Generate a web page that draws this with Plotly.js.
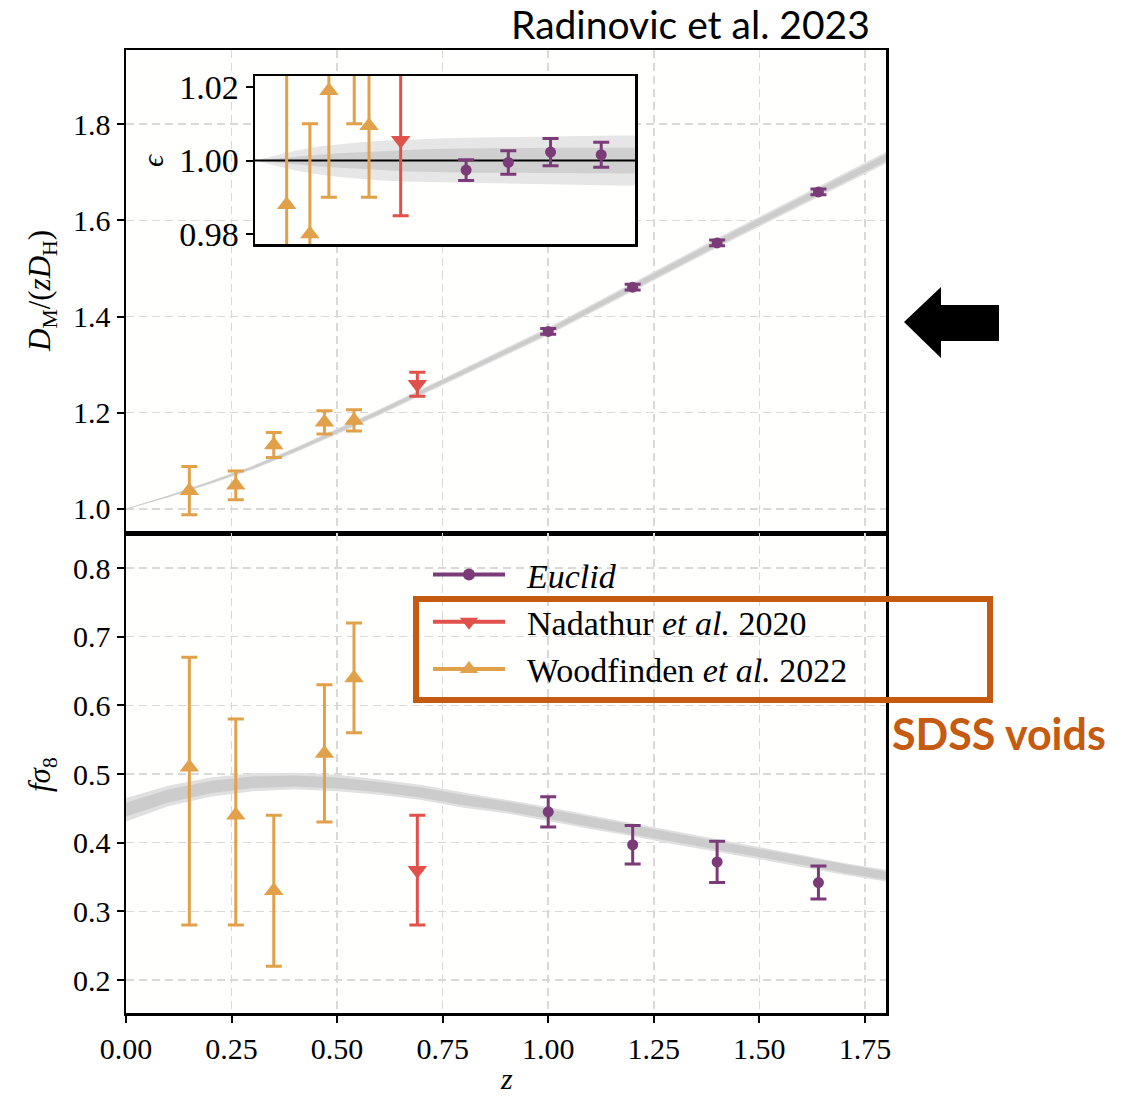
<!DOCTYPE html>
<html><head><meta charset="utf-8">
<script src="https://cdn.plot.ly/plotly-3.0.1.min.js"></script>
<style>html,body{margin:0;padding:0;background:#fff}#chart{width:1125px;height:1098px}</style>
</head><body><div id="chart"></div>
<script>
// ---------------- data ----------------
const zModel = [0.0,0.1,0.2,0.3,0.4,0.5,0.6,0.7,0.8,0.9,1.0,1.1,1.2,1.3,1.4,1.5,1.6,1.7,1.8];
// D_M/(z D_H) model curve and band half-widths
const dmModel = [1.000,1.026,1.055,1.086,1.122,1.161,1.201,1.243,1.285,1.327,1.369,1.415,1.461,1.507,1.553,1.597,1.641,1.686,1.730];
const dmBandOuter = [0.001,0.002,0.003,0.004,0.005,0.0055,0.006,0.0065,0.007,0.0075,0.008,0.0085,0.009,0.0095,0.010,0.0105,0.011,0.0115,0.012];
const dmBandInner = [0.0005,0.0012,0.0018,0.0024,0.003,0.0033,0.0036,0.004,0.0043,0.0046,0.005,0.0053,0.0056,0.0059,0.0062,0.0065,0.0068,0.0071,0.0074];
// f sigma_8 model curve and band half-widths
const fsModel = [0.448,0.468,0.481,0.488,0.490,0.487,0.481,0.473,0.462,0.453,0.442,0.430,0.419,0.407,0.396,0.385,0.374,0.362,0.352];
const fsBandOuter = [0.017,0.015,0.014,0.013,0.012,0.012,0.011,0.011,0.011,0.010,0.010,0.010,0.0095,0.0095,0.009,0.009,0.009,0.0085,0.0085];
const fsBandInner = [0.010,0.0095,0.009,0.0085,0.008,0.008,0.0075,0.0075,0.0075,0.007,0.007,0.007,0.0065,0.0065,0.006,0.006,0.006,0.006,0.006];
// epsilon (inset) reference and band half-widths
const epsModel = [1,1,1,1,1,1,1,1,1,1,1,1,1,1,1,1,1,1,1];
const epsBandOuter = [0,0.0015,0.0028,0.0038,0.0045,0.005,0.0054,0.0057,0.006,0.0061,0.0062,0.0063,0.0064,0.0065,0.0066,0.0067,0.0067,0.0068,0.0068];
const epsBandInner = [0,0.0006,0.0011,0.0016,0.002,0.0023,0.0026,0.0029,0.0031,0.0032,0.0033,0.0034,0.0034,0.0035,0.0035,0.0035,0.0035,0.0035,0.0035];

// Woodfinden et al. 2022
const zWood = [0.15, 0.26, 0.35, 0.47, 0.54];
const dmWood = [1.038, 1.049, 1.133, 1.180, 1.184];
const dmWoodErr = [0.050, 0.030, 0.026, 0.024, 0.022];
const fsWood = [0.51, 0.44, 0.33, 0.53, 0.64];
const fsWoodUp = [0.16, 0.14, 0.11, 0.10, 0.08];
const fsWoodDown = [0.23, 0.16, 0.11, 0.10, 0.08];
const epsWood = [0.988, 0.980, 1.019, 1.030, 1.0095];
const epsWoodErr = [0.040, 0.030, 0.029, 0.020, 0.0195];
// Nadathur et al. 2020
const zNad = [0.69];
const dmNad = [1.259];
const dmNadErr = [0.025];
const fsNad = [0.36];
const fsNadErr = [0.08];
const epsNad = [1.0055];
const epsNadErr = [0.0205];
// Euclid forecast
const zEuc = [1.0, 1.2, 1.4, 1.64];
const dmEuc = [1.369, 1.461, 1.553, 1.659];
const dmEucErr = [0.006, 0.006, 0.006, 0.006];
const fsEuc = [0.445, 0.397, 0.372, 0.342];
const fsEucErr = [0.022, 0.028, 0.030, 0.024];
const epsEuc = [0.9974, 0.9995, 1.0023, 1.0016];
const epsEucErr = [0.0028, 0.0032, 0.0037, 0.0034];

const legendNames = ['<i>Euclid</i>', 'Nadathur <i>et al.</i> 2020', 'Woodfinden <i>et al.</i> 2022'];
const xTicks = [0, 0.25, 0.5, 0.75, 1.0, 1.25, 1.5, 1.75];

// ---------------- styling ----------------
const PURPLE = '#7b3b78', RED = '#e0514b', ORANGE = '#e1a04a', BOX = '#c55a11';
const SERIF = 'Liberation Serif, Times New Roman, serif';
const W = 1125, H = 1098, L = 126, R = 239, T = 50, B = 85;
const px = x => (x - L) / (W - L - R);
const py = y => (H - B - y) / (H - T - B);
const GAP = '\u2002';

function band(z, c, hw, xa, ya, color) {
  const up = c.map((v, i) => v + hw[i]);
  const lo = c.map((v, i) => v - hw[i]);
  return {x: z.concat(z.slice().reverse()), y: up.concat(lo.slice().reverse()),
    xaxis: xa, yaxis: ya, mode: 'lines', fill: 'toself', fillcolor: color,
    line: {width: 0}, hoverinfo: 'skip', showlegend: false};
}
function pts(x, y, up, down, xa, ya, color, symbol, size, capw) {
  return {x: x, y: y, xaxis: xa, yaxis: ya, mode: 'markers', showlegend: false,
    marker: {color: color, symbol: symbol, size: size},
    error_y: {type: 'data', symmetric: false, array: up, arrayminus: down,
      color: color, thickness: 3, width: capw}};
}

const traces = [
  // top panel
  band(zModel, dmModel, dmBandOuter, 'x', 'y', '#e0e0e0'),
  band(zModel, dmModel, dmBandInner, 'x', 'y', '#cccccc'),
  pts(zWood, dmWood, dmWoodErr, dmWoodErr, 'x', 'y', ORANGE, 'triangle-up', 17, 8),
  pts(zNad, dmNad, dmNadErr, dmNadErr, 'x', 'y', RED, 'triangle-down', 17, 8),
  pts(zEuc, dmEuc, dmEucErr, dmEucErr, 'x', 'y', PURPLE, 'circle', 11, 8),
  // bottom panel
  band(zModel, fsModel, fsBandOuter, 'x2', 'y2', '#e0e0e0'),
  band(zModel, fsModel, fsBandInner, 'x2', 'y2', '#cccccc'),
  pts(zWood, fsWood, fsWoodUp, fsWoodDown, 'x2', 'y2', ORANGE, 'triangle-up', 17, 8),
  pts(zNad, fsNad, fsNadErr, fsNadErr, 'x2', 'y2', RED, 'triangle-down', 17, 8),
  pts(zEuc, fsEuc, fsEucErr, fsEucErr, 'x2', 'y2', PURPLE, 'circle', 11, 8),
  // inset
  band(zModel, epsModel, epsBandOuter, 'x3', 'y3', '#e6e6e6'),
  band(zModel, epsModel, epsBandInner, 'x3', 'y3', '#d0d0d0'),
  {x: zModel, y: epsModel, xaxis: 'x3', yaxis: 'y3', mode: 'lines', line: {color: '#000', width: 2}, showlegend: false, hoverinfo: 'skip'},
  pts(zWood, epsWood, epsWoodErr, epsWoodErr, 'x3', 'y3', ORANGE, 'triangle-up', 17, 8),
  pts(zNad, epsNad, epsNadErr, epsNadErr, 'x3', 'y3', RED, 'triangle-down', 17, 8),
  pts(zEuc, epsEuc, epsEucErr, epsEucErr, 'x3', 'y3', PURPLE, 'circle', 11, 8),
  // legend entries
  {x: [null], y: [null], xaxis: 'x2', yaxis: 'y2', mode: 'lines+markers', name: GAP + legendNames[0],
   line: {color: PURPLE, width: 4}, marker: {color: PURPLE, symbol: 'circle', size: 12}},
  {x: [null], y: [null], xaxis: 'x2', yaxis: 'y2', mode: 'lines+markers', name: GAP + legendNames[1],
   line: {color: RED, width: 4}, marker: {color: RED, symbol: 'triangle-down', size: 16}},
  {x: [null], y: [null], xaxis: 'x2', yaxis: 'y2', mode: 'lines+markers', name: GAP + legendNames[2],
   line: {color: ORANGE, width: 4}, marker: {color: ORANGE, symbol: 'triangle-up', size: 16}}
];

const gridCommon = {showgrid: true, gridcolor: '#d9d9d9', gridwidth: 1.5, griddash: '8px,5px',
  showline: true, linecolor: '#000', linewidth: 2.5, mirror: true, zeroline: false,
  tickcolor: '#000', ticklen: 7, tickwidth: 2, tickfont: {family: SERIF, size: 30, color: '#000'}};
const splitY = py(533);

const layout = {
  width: W, height: H, autosize: false,
  margin: {l: L, r: R, t: T, b: B, pad: 0},
  paper_bgcolor: '#ffffff', plot_bgcolor: '#fffffe',
  font: {family: SERIF, color: '#000'},
  xaxis: Object.assign({}, gridCommon, {domain: [0, 1], anchor: 'y', range: [0, 1.8],
    tickvals: xTicks, showticklabels: false, ticks: ''}),
  yaxis: Object.assign({}, gridCommon, {domain: [splitY, 1], anchor: 'x', range: [0.95, 1.954],
    tick0: 1.0, dtick: 0.2, tickformat: '.1f', ticks: 'outside'}),
  xaxis2: Object.assign({}, gridCommon, {domain: [0, 1], anchor: 'y2', range: [0, 1.8],
    tickvals: xTicks, tickformat: '.2f', ticks: 'outside'}),
  yaxis2: Object.assign({}, gridCommon, {domain: [0, splitY], anchor: 'x2', range: [0.152, 0.851],
    tick0: 0.2, dtick: 0.1, tickformat: '.1f', ticks: 'outside'}),
  xaxis3: {domain: [px(255), px(635)], anchor: 'y3', range: [0, 1.8], showgrid: false,
    showticklabels: false, ticks: '', showline: true, linecolor: '#000', linewidth: 2.5, mirror: true, zeroline: false},
  yaxis3: {domain: [py(244), py(76)], anchor: 'x3', range: [0.9773, 1.023], showgrid: false,
    tickvals: [0.98, 1.0, 1.02], tickformat: '.2f', ticks: 'outside', ticklen: 7, tickwidth: 2, tickcolor: '#000',
    tickfont: {family: SERIF, size: 34, color: '#000'},
    showline: true, linecolor: '#000', linewidth: 2.5, mirror: true, zeroline: false},
  showlegend: true,
  legend: {x: px(428), y: py(546), xanchor: 'left', yanchor: 'top', bgcolor: 'rgba(0,0,0,0)',
    font: {family: SERIF, size: 34, color: '#000'}, itemwidth: 72, tracegroupgap: 0, traceorder: 'normal'},
  annotations: [
    {text: 'Radinovic et al. 2023', xref: 'paper', yref: 'paper', x: px(690), y: py(24),
     showarrow: false, xanchor: 'center', yanchor: 'middle', font: {family: 'Lato', size: 39, color: '#000'}},
    {text: '<b>SDSS voids</b>', xref: 'paper', yref: 'paper', x: px(999), y: py(733),
     showarrow: false, xanchor: 'center', yanchor: 'middle', font: {family: 'Lato', size: 43, color: BOX}},
    {text: '<i>D</i><sub>M</sub>/(<i>zD</i><sub>H</sub>)', xref: 'paper', yref: 'paper', x: px(42), y: py(291),
     showarrow: false, textangle: -90, xanchor: 'center', yanchor: 'middle', font: {family: SERIF, size: 31}},
    {text: '<i>fσ</i><sub>8</sub>', xref: 'paper', yref: 'paper', x: px(42), y: py(775),
     showarrow: false, textangle: -90, xanchor: 'center', yanchor: 'middle', font: {family: SERIF, size: 31}},
    {text: '<i>z</i>', xref: 'paper', yref: 'paper', x: px(506), y: py(1078),
     showarrow: false, xanchor: 'center', yanchor: 'middle', font: {family: SERIF, size: 30}},
    {text: '<i>ϵ</i>', xref: 'paper', yref: 'paper', x: px(152), y: py(160),
     showarrow: false, textangle: -90, xanchor: 'center', yanchor: 'middle', font: {family: SERIF, size: 30}}
  ],
  shapes: [
    {type: 'rect', xref: 'paper', yref: 'paper', x0: px(416), x1: px(990), y0: py(700), y1: py(599),
     line: {color: BOX, width: 6}, fillcolor: 'rgba(0,0,0,0)', layer: 'above'},
    {type: 'path', xref: 'paper', yref: 'paper', layer: 'above', fillcolor: '#000', line: {width: 0},
     path: 'M' + px(904) + ',' + py(322) + ' L' + px(941) + ',' + py(287) + ' L' + px(941) + ',' + py(305) +
           ' L' + px(999) + ',' + py(305) + ' L' + px(999) + ',' + py(341) + ' L' + px(941) + ',' + py(341) +
           ' L' + px(941) + ',' + py(358) + ' Z'}
  ]
};

Plotly.newPlot('chart', traces, layout, {displayModeBar: false, staticPlot: true});
</script>
</body></html>
